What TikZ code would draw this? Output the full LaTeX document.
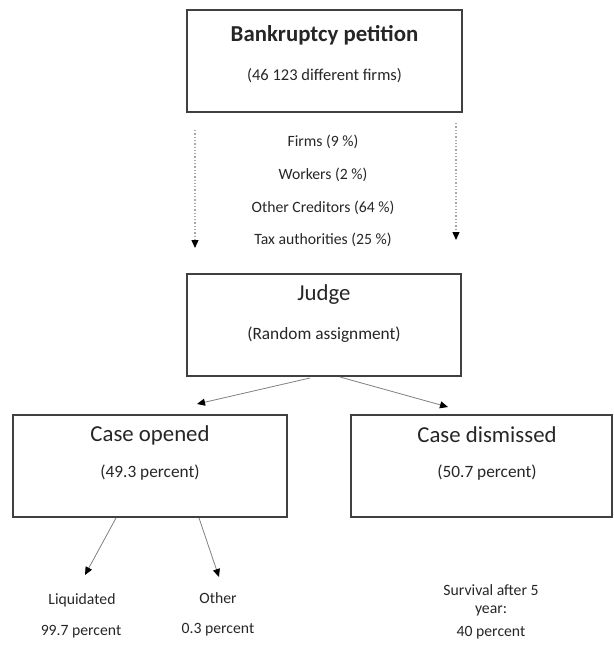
\documentclass[tikz,border=0pt]{standalone}
\usepackage{fontspec}
\setmainfont{Carlito}
\usetikzlibrary{arrows.meta,calc}
\begin{document}
\begin{tikzpicture}[x=1pt,y=-1pt,
  box/.style={draw=black!75, line width=1.1pt, inner sep=0pt, outer sep=0pt, anchor=north west},
  lbl/.style={inner sep=0pt, text=black!85},
  big/.style={lbl, font=\fontsize{22.8}{27}\selectfont},
  mid/.style={lbl, font=\fontsize{17.3}{21}\selectfont},
  small/.style={lbl, font=\fontsize{15.7}{19}\selectfont},
  conn/.style={draw=black!50, line width=0.8pt, -{Triangle[length=8pt,width=7pt,color=black]}},
  dconn/.style={draw=black!35, line width=1.3pt, dotted, -{Triangle[length=8pt,width=7pt,color=black]}}]
\useasboundingbox (0,0) rectangle (613,650);
% boxes
\node[box, minimum width=275pt, minimum height=102pt] (top) at (187,10) {};
\node[box, minimum width=274pt, minimum height=102pt] (judge) at (187,274) {};
\node[box, minimum width=274pt, minimum height=102pt] (opened) at (13,415) {};
\node[box, minimum width=261pt, minimum height=102pt] (dismissed) at (351,415) {};
% texts
\node[lbl, font=\bfseries\fontsize{22.8}{27}\selectfont] (ttitle) at (324.5,35) {Bankruptcy petition};
\node[lbl, font=\fontsize{16.5}{20}\selectfont] (tsub) at (324.5,76) {(46 123 different firms)};
\node[small] (firms) at (323,142) {Firms (9 \%)};
\node[small] (workers) at (323,175) {Workers (2 \%)};
\node[small] (creditors) at (323,208) {Other Creditors (64 \%)};
\node[small] (tax) at (323,240) {Tax authorities (25 \%)};
\node[big] (jtitle) at (324,295) {Judge};
\node[mid] (jsub) at (324,335) {(Random assignment)};
\node[big] (otitle) at (150,435) {Case opened};
\node[mid] (osub) at (150,473) {(49.3 percent)};
\node[big] (dtitle) at (487,435) {Case dismissed};
\node[mid] (dsub) at (487,473) {(50.7 percent)};
\node[small] (liq) at (82,600) {Liquidated};
\node[small] (liqp) at (81,632) {99.7 percent};
\node[small] (oth) at (218,598) {Other};
\node[small] (othp) at (218,630) {0.3 percent};
\node[small] (surv) at (491,590) {Survival after 5};
\node[small] (year) at (491,611) {year:};
\node[small] (survp) at (491,633) {40 percent};
% connector end points
\coordinate (dlEnd) at (195,248);
\coordinate (drEnd) at (456,240);
\coordinate (jlEnd) at (197,404);
\coordinate (jrEnd) at (448,407);
\coordinate (olEnd) at (85,575);
\coordinate (orEnd) at (219,577);
% connectors
\draw[dconn] ($(top.south west)+(8,18)$) -- (dlEnd);
\draw[dconn] ($(top.south east)+(-6,11)$) -- (drEnd);
\draw[conn] ($(judge.south west)+(123,2)$) -- (jlEnd);
\draw[conn] ($(judge.south west)+(153,1)$) -- (jrEnd);
\draw[conn] ($(opened.south west)+(103,1)$) -- (olEnd);
\draw[conn] ($(opened.south west)+(186,1)$) -- (orEnd);
\end{tikzpicture}
\end{document}
